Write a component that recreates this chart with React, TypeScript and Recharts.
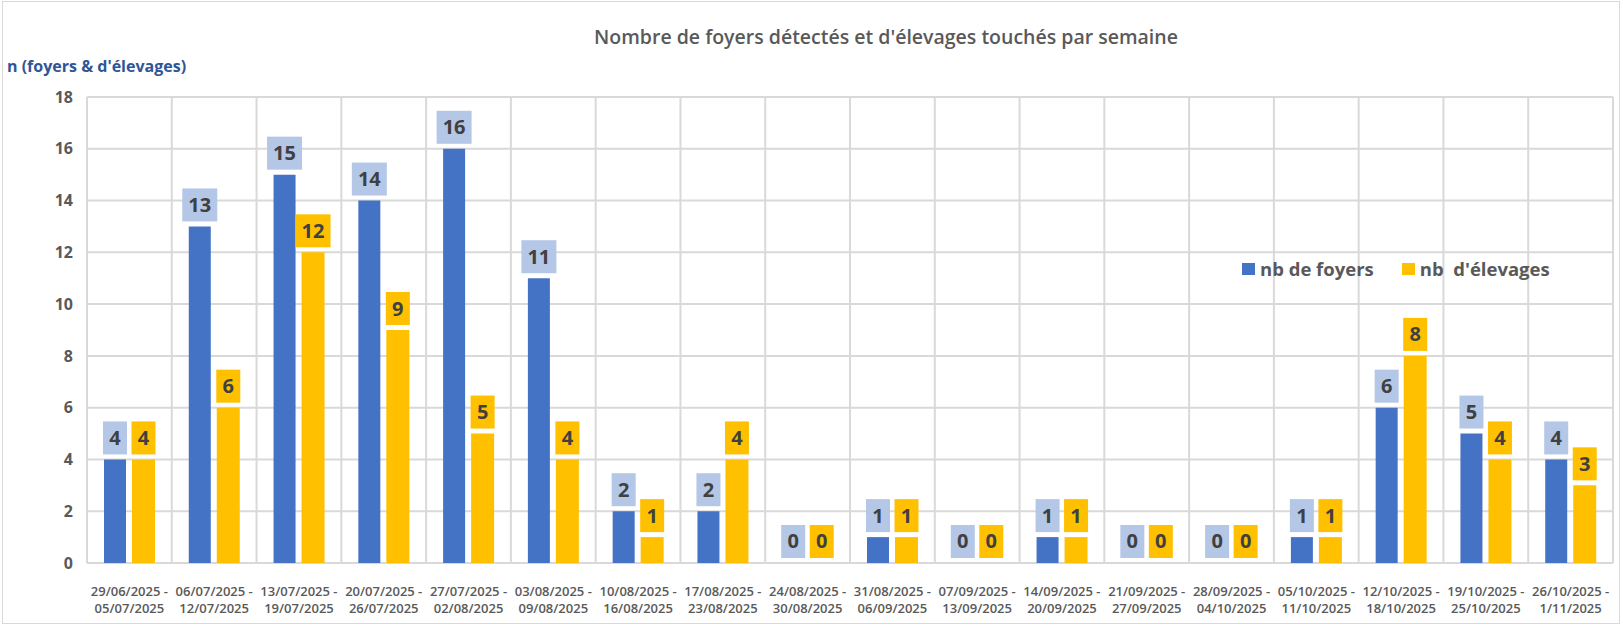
import React from 'react';
import { BarChart, Bar, XAxis, YAxis, CartesianGrid, Legend, LabelList } from 'recharts';

const weeks = [
  '29/06/2025 - 05/07/2025',
  '06/07/2025 - 12/07/2025',
  '13/07/2025 - 19/07/2025',
  '20/07/2025 - 26/07/2025',
  '27/07/2025 - 02/08/2025',
  '03/08/2025 - 09/08/2025',
  '10/08/2025 - 16/08/2025',
  '17/08/2025 - 23/08/2025',
  '24/08/2025 - 30/08/2025',
  '31/08/2025 - 06/09/2025',
  '07/09/2025 - 13/09/2025',
  '14/09/2025 - 20/09/2025',
  '21/09/2025 - 27/09/2025',
  '28/09/2025 - 04/10/2025',
  '05/10/2025 - 11/10/2025',
  '12/10/2025 - 18/10/2025',
  '19/10/2025 - 25/10/2025',
  '26/10/2025 - 1/11/2025',
];
const foyers = [4, 13, 15, 14, 16, 11, 2, 2, 0, 1, 0, 1, 0, 0, 1, 6, 5, 4];
const elevages = [4, 6, 12, 9, 5, 4, 1, 4, 0, 1, 0, 1, 0, 0, 1, 8, 4, 3];
const yTicks = [0, 2, 4, 6, 8, 10, 12, 14, 16, 18];

const data = weeks.map((w, i) => ({ week: w, foyers: foyers[i], elevages: elevages[i] }));

const FONT = '"Open Sans", "Noto Sans", sans-serif';
const GRAY = '#595959';

const XTick = (props: any) => {
  const { x, y, payload } = props;
  const [a, b] = String(payload.value).split(' - ');
  return (
    <g transform={`translate(${x},${y})`}>
      <text textAnchor="middle" fontFamily={FONT} fontSize={13} fontWeight={600} fill={GRAY}>
        <tspan x={0} y={25}>{a} -</tspan>
        <tspan x={0} y={42}>{b}</tspan>
      </text>
    </g>
  );
};

const makeLabel = (boxColor: string) => (props: any) => {
  const { x, y, width, value } = props;
  const s = String(value);
  const w = s.length * 11 + 13;
  const h = 33;
  const cx = x + width / 2;
  const top = y - 5 - h;
  return (
    <g>
      <rect x={cx - w / 2} y={top} width={w} height={h} fill={boxColor} />
      <text x={cx} y={top + h / 2 + 7} textAnchor="middle" fontFamily={FONT} fontSize={20} fontWeight={700} fill="#404040">
        {s}
      </text>
    </g>
  );
};

const legendItems = [
  { name: 'nb de foyers', color: '#4472c4' },
  { name: 'nb  d\'élevages', color: '#ffc000' },
];

const renderLegend = () => (
  <div style={{ display: 'flex', alignItems: 'center', gap: 28, fontFamily: FONT, fontSize: 18.5, fontWeight: 700, color: GRAY, lineHeight: '26px' }}>
    {legendItems.map(it => (
      <div key={it.name} style={{ display: 'flex', alignItems: 'center', gap: 5 }}>
        <div style={{ width: 13, height: 12, backgroundColor: it.color }}></div>
        <span style={{ whiteSpace: 'pre' }}>{it.name}</span>
      </div>
    ))}
  </div>
);

const App: React.FC = () => {
  return (
    <div style={{ position: 'absolute', left: 0, top: 0, width: 1623, height: 625, background: '#fff' }}>
      {/* outer border */}
      <div style={{ position: 'absolute', left: 2, top: 1, width: 1616, height: 621, border: '1px solid #d9d9d9' }}></div>

      {/* Title */}
      <div style={{ position: 'absolute', left: 0, width: 1772, top: 23, textAlign: 'center', fontFamily: FONT, fontSize: 19.5, fontWeight: 600, color: GRAY }}>
        Nombre de foyers détectés et d'élevages touchés par semaine
      </div>

      {/* Y axis title */}
      <div style={{ position: 'absolute', left: 7, top: 55, fontFamily: FONT, fontSize: 16, fontWeight: 700, color: '#2f5597' }}>
        n (foyers &amp; d'élevages)
      </div>

      <BarChart
        width={1623}
        height={625}
        data={data}
        margin={{ top: 97, right: 10, bottom: 12, left: 0 }}
        barGap={6}
        style={{ position: 'absolute', left: 0, top: 0 }}
      >
        <CartesianGrid
          stroke="#d9d9d9"
          strokeWidth={2}
          verticalCoordinatesGenerator={({ offset }: any) =>
            weeks.map((_, i) => offset.left + (i * offset.width) / weeks.length).concat([offset.left + offset.width])
          }
        />
        <XAxis
          dataKey="week"
          height={50}
          axisLine={false}
          tickLine={false}
          interval={0}
          tick={<XTick />}
        />
        <YAxis
          width={87}
          domain={[0, 18]}
          ticks={yTicks}
          axisLine={false}
          tickLine={false}
          tickSize={0}
          tickMargin={14}
          tick={{ fontFamily: FONT, fontSize: 16, fontWeight: 700, fill: GRAY }}
        />
        <Legend
          layout="horizontal"
          verticalAlign="middle"
          align="center"
          content={renderLegend}
          wrapperStyle={{ left: 1242, top: 256, width: 'auto' }}
        />
        <Bar dataKey="foyers" name="nb de foyers" fill="#4472c4" barSize={22} minPointSize={0.01} isAnimationActive={false}>
          <LabelList dataKey="foyers" content={makeLabel('#b4c7e7')} />
        </Bar>
        <Bar dataKey="elevages" name="nb d'élevages" fill="#ffc000" barSize={23} minPointSize={0.01} isAnimationActive={false}>
          <LabelList dataKey="elevages" content={makeLabel('#ffc000')} />
        </Bar>
      </BarChart>
    </div>
  );
};

export default App;
